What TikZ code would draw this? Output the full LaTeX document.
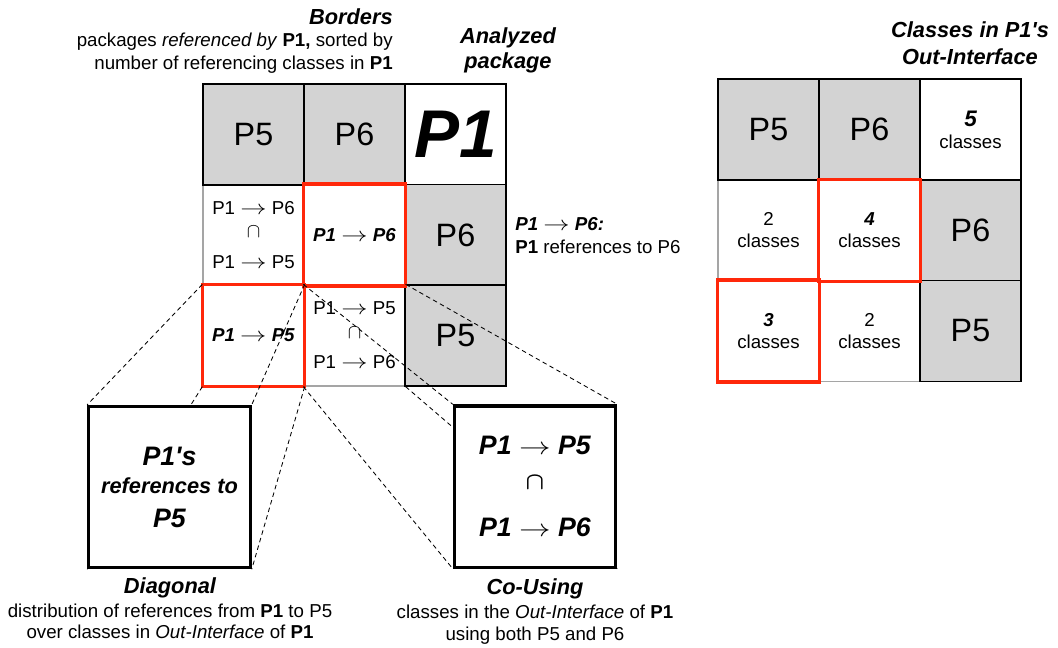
\documentclass[tikz,border=0pt]{standalone}
\usepackage{fontspec}
\setmainfont{Liberation Sans}
\usepackage{amsmath}
\usepackage{xcolor}
\usepackage{tikz}

\definecolor{cellgrey}{RGB}{211,211,211}
\definecolor{linegrey}{RGB}{165,165,165}
\definecolor{markred}{RGB}{255,40,10}

\newcommand{\refarrow}{\scalebox{1.3}[1]{$\rightarrow$}}

\pgfdeclarelayer{front}
\pgfsetlayers{main,front}

\tikzset{
  cell/.style={minimum size=2.525cm, inner sep=0pt, align=center, line width=0.9pt},
  pkgcell/.style={cell, draw=black, fill=cellgrey, font=\fontsize{23}{27}\selectfont},
  refcell/.style={cell, draw=linegrey, fill=white, font=\fontsize{13.3}{15.6}\selectfont},
  zoombox/.style={draw=black, line width=2.3pt, fill=white, minimum size=4.03cm, inner sep=0pt, align=center},
  marked/.style={draw=markred, line width=2.6pt},
  proj/.style={dash pattern=on 3.2pt off 2.4pt, line width=0.6pt},
  title/.style={font=\fontsize{15.5}{18}\selectfont\bfseries\itshape, inner sep=0pt},
  caption/.style={font=\fontsize{13.3}{16.4}\selectfont, inner sep=0pt}
}

\begin{document}
\begin{tikzpicture}[x=0.025cm, y=-0.025cm]
			\useasboundingbox (0,0) rectangle (1058,647);
			% Ma tran trai: cac o trang truoc
			\node[refcell] (m21) at (253.5,235) {P1 \refarrow{} P6\\[1pt]$\cap$\\[6pt]P1 \refarrow{} P5};
			\node[refcell] (m22) at (354.5,235) {\textbf{\textit{P1}} \refarrow{} \textbf{\textit{P6}}};
			\node[refcell] (m31) at (253.5,335.5) {\textbf{\textit{P1}} \refarrow{} \textbf{\textit{P5}}};
			\node[refcell] (m32) at (354.5,335.5) {P1 \refarrow{} P5\\[1pt]$\cap$\\[6pt]P1 \refarrow{} P6};
			\node[pkgcell] (m11) at (253.5,134.5) {P5};
			\node[pkgcell] (m12) at (354.5,134.5) {P6};
			\node[cell, draw=black, fill=white, font=\fontsize{48}{50}\selectfont\bfseries\itshape] (m13) at (455.5,134.5) {P1};
			\node[pkgcell] (m23) at (455.5,235) {P6};
			\node[pkgcell] (m33) at (455.5,335.5) {P5};
			\draw[marked] (m22.north west) rectangle (m22.south east);
			\draw[marked] (m31.north west) rectangle (m31.south east);

			% Ma tran phai
			\node[refcell] (r21) at (768.5,230.5) {2\\classes};
			\node[refcell] (r22) at (869.5,230.5) {\textbf{\textit{4}}\\classes};
			\node[refcell] (r31) at (768.5,331) {\textbf{\textit{3}}\\classes};
			\node[refcell] (r32) at (869.5,331) {2\\classes};
			\node[pkgcell] (r11) at (768.5,129.5) {P5};
			\node[pkgcell] (r12) at (869.5,129.5) {P6};
			\node[cell, draw=black, fill=white, font=\fontsize{13.3}{15.6}\selectfont] (r13) at (970.5,129.5) {{\fontsize{16}{18}\selectfont\bfseries\itshape 5}\\classes};
			\node[pkgcell] (r23) at (970.5,230.5) {P6};
			\node[pkgcell] (r33) at (970.5,331) {P5};
			\draw[marked] (r22.north west) rectangle (r22.south east);
			\draw[marked] (r31.north west) rectangle (r31.south east);

			% Hai o phong to
			\begin{pgfonlayer}{front}
			\node[zoombox, font=\fontsize{19}{20}\selectfont\bfseries\itshape] (diag) at (169.5,487) {P1\textquotesingle s\\[0pt]
				{\fontsize{15.5}{18}\selectfont references to}\\[4pt]
				P5};
			\node[zoombox, font=\fontsize{19}{22.8}\selectfont] (cous) at (535,486.5) {\textbf{\textit{P1}} \refarrow{} \textbf{\textit{P5}}\\[2pt]
				{\boldmath$\cap$}\\[11pt]
				\textbf{\textit{P1}} \refarrow{} \textbf{\textit{P6}}};
			\end{pgfonlayer}

			% Cac duong chieu
			\draw[proj] (m31.north west) -- (diag.north west);
			\draw[proj] (m31.north east) -- (diag.north east);
			\draw[proj] (m31.south west) -- (diag.south west);
			\draw[proj] (m31.south east) -- (diag.south east);
			\draw[proj] (m32.north west) -- (cous.north west);
			\draw[proj] (m32.north east) -- (cous.north east);
			\draw[proj] (m32.south west) -- (cous.south west);
			\draw[proj] (m32.south east) -- (cous.south east);

			% Chu thich
			\node[title, anchor=base east] (brdtitle) at (393,24) {Borders};
			\node[caption, anchor=base east] (brdline1) at (393,46) {packages \textit{referenced by} \textbf{P1,} sorted by};
			\node[caption, anchor=base east] (brdline2) at (393,69) {number of referencing classes in \textbf{P1}};
			\node[title, anchor=base] (anatitle1) at (508,43) {Analyzed};
			\node[title, anchor=base] (anatitle2) at (508,68) {package};
			\node[title, anchor=base] (outtitle1) at (970,37) {Classes in P1\textquotesingle s};
			\node[title, anchor=base] (outtitle2) at (970,64) {Out-Interface};
			\node[caption, anchor=base west] (p6note1) at (515,230) {\textbf{\textit{P1}} \refarrow{} \textbf{\textit{P6:}}};
			\node[caption, anchor=base west] (p6note2) at (515,253) {\textbf{P1} references to P6};
			\node[title, anchor=base] (diagtitle) at (170,593) {Diagonal};
			\node[caption, anchor=base] (diagline1) at (170,617) {distribution of references from \textbf{P1} to P5};
			\node[caption, anchor=base] (diagline2) at (170,638) {over classes in \textit{Out-Interface} of \textbf{P1}};
			\node[title, anchor=base] (coustitle) at (535,594) {Co-Using};
			\node[caption, anchor=base] (cousline1) at (535,618) {classes in the \textit{Out-Interface} of \textbf{P1}};
			\node[caption, anchor=base] (cousline2) at (535,640) {using both P5 and P6};
		\end{tikzpicture}
\end{document}
